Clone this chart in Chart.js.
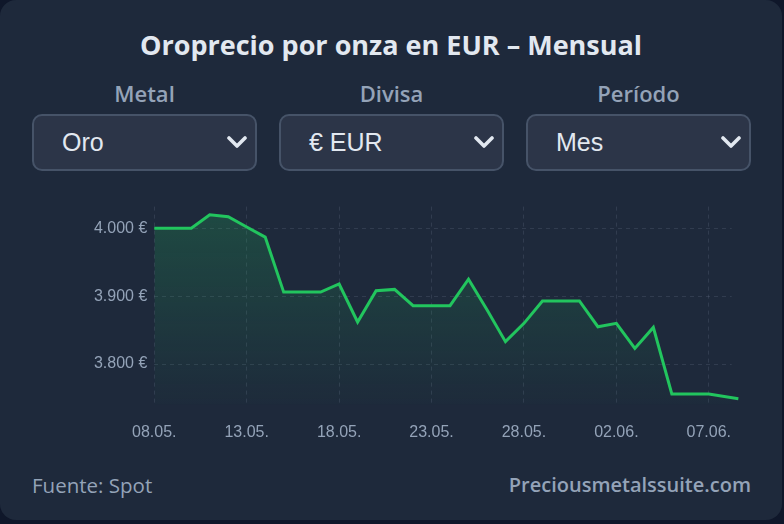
<!DOCTYPE html>
<html lang="es">
<head>
<meta charset="utf-8">
<title>Oroprecio por onza en EUR – Mensual</title>
<script src="https://cdn.jsdelivr.net/npm/chart.js@4.4.1/dist/chart.umd.min.js"></script>
<style>
  html, body { margin: 0; padding: 0; background: #0f172a; width: 784px; height: 524px; overflow: hidden; }
  .card { position: absolute; left: 0; top: 0; width: 782px; height: 520px; background: #1e293b; border-radius: 16px; }
  .title { position: absolute; left: 0; width: 782px; top: 26px; line-height: 36px; text-align: center;
    font: 700 27px "Open Sans", sans-serif; color: #e2e8f0; }
  .ctrl-label { position: absolute; top: 78px; width: 225px; line-height: 26px; text-align: center;
    font: 600 22px "Open Sans", sans-serif; color: #94a3b8; }
  .select { position: absolute; top: 114px; width: 225px; height: 57px; box-sizing: border-box;
    background: #2c3548; border: 2px solid #465368; border-radius: 10px;
    font: 400 25px "Liberation Sans", Arial, sans-serif; color: #e2e8f0; line-height: 53px; padding-left: 28px; }
  .select svg { position: absolute; right: 8px; top: 20px; }
  .chart-wrap { position: absolute; left: 32px; top: 190px; width: 719px; height: 270px; }
  .foot { position: absolute; top: 471px; line-height: 28px; font: 400 20.5px "Open Sans", sans-serif; color: #94a3b8; }
  .foot.right { right: 31px; font-weight: 600; font-size: 20px; }
</style>
</head>
<body>
<div class="card">
  <div class="title">Oroprecio por onza en EUR – Mensual</div>

  <div class="ctrl-label" style="left:32px">Metal</div>
  <div class="ctrl-label" style="left:279px">Divisa</div>
  <div class="ctrl-label" style="left:526px">Período</div>

  <div class="select" style="left:32px">Oro<svg width="20" height="14" viewBox="0 0 20 14"><path d="M2 2 L10 10 L18 2" fill="none" stroke="#e2e8f0" stroke-width="3.6" stroke-linecap="round" stroke-linejoin="round"/></svg></div>
  <div class="select" style="left:279px">€ EUR<svg width="20" height="14" viewBox="0 0 20 14"><path d="M2 2 L10 10 L18 2" fill="none" stroke="#e2e8f0" stroke-width="3.6" stroke-linecap="round" stroke-linejoin="round"/></svg></div>
  <div class="select" style="left:526px">Mes<svg width="20" height="14" viewBox="0 0 20 14"><path d="M2 2 L10 10 L18 2" fill="none" stroke="#e2e8f0" stroke-width="3.6" stroke-linecap="round" stroke-linejoin="round"/></svg></div>

  <div class="chart-wrap"><canvas id="priceChart"></canvas></div>

  <div class="foot" style="left:32px">Fuente: Spot</div>
  <div class="foot right">Preciousmetalssuite.com</div>
</div>

<script>
  // day offsets from 08.05. (the last quote is intraday on 08.06.)
  const days = [0, 1, 2, 3, 4, 5, 6, 7, 8, 9, 10, 11, 12, 13, 14, 15,
    16, 17, 18, 19, 20, 21, 22, 23, 24, 25, 26, 27, 28, 29, 30, 31.6];
  const prices = [4000, 4000, 4000, 4020, 4017, 4002, 3987, 3906, 3906, 3906, 3918, 3862, 3908, 3910, 3886, 3886,
    3886, 3925, 3880, 3833, 3860, 3893, 3893, 3893, 3855, 3860, 3823, 3854, 3756, 3756, 3756, 3749];
  const xTickLabels = ["08.05.", "13.05.", "18.05.", "23.05.", "28.05.", "02.06.", "07.06."];
  const yTicks = [3800, 3900, 4000];

  const GREEN = "#22c55e";
  const TICK = "#94a3b8";
  const GRID = "rgba(148,163,184,0.16)";

  const fmtEur = (v) => String(v).replace(/\B(?=(\d{3})+(?!\d))/g, ".") + " €";

  new Chart(document.getElementById("priceChart"), {
    type: "line",
    data: {
      datasets: [{
        data: days.map((d, i) => ({ x: d, y: prices[i] })),
        borderColor: GREEN,
        borderWidth: 3,
        pointRadius: 0,
        tension: 0,
        fill: "start",
        clip: false,
        backgroundColor: (c) => {
          const area = c.chart.chartArea;
          if (!area) return "rgba(34,197,94,0.2)";
          const g = c.chart.ctx.createLinearGradient(0, area.top, 0, area.bottom);
          g.addColorStop(0, "rgba(34,197,94,0.22)");
          g.addColorStop(1, "rgba(34,197,94,0.01)");
          return g;
        },
      }],
    },
    options: {
      responsive: true, maintainAspectRatio: false, animation: false,
      layout: { padding: { top: 6.8, right: 19.3, bottom: 0, left: 0 } },
      plugins: { legend: { display: false }, tooltip: { enabled: false } },
      scales: {
        x: {
          type: "linear", min: 0, max: 31.24,
          border: { display: false, dash: [4, 4] },
          grid: { color: GRID, drawTicks: false },
          ticks: {
            stepSize: 5, includeBounds: false, padding: 18, maxRotation: 0,
            color: TICK, font: { family: "Liberation Sans", size: 16 },
            callback: (v) => xTickLabels[v / 5] ?? "",
          },
        },
        y: {
          min: 3740, max: 4032,
          border: { display: false, dash: [4, 4] },
          grid: { color: GRID, drawTicks: false },
          afterFit: (s) => { s.width = 122.3; },
          afterBuildTicks: (s) => { s.ticks = yTicks.map((v) => ({ value: v })); },
          ticks: {
            padding: 7, color: TICK, font: { family: "Liberation Sans", size: 16 },
            callback: (v) => fmtEur(v),
          },
        },
      },
    },
  });
</script>
</body>
</html>
